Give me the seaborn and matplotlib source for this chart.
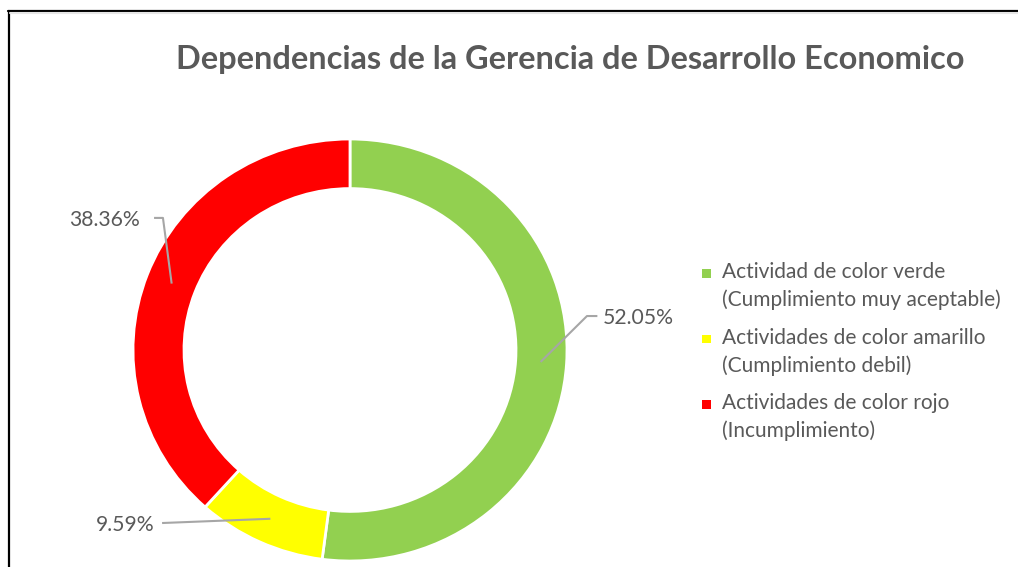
import matplotlib
matplotlib.use("Agg")
import matplotlib.pyplot as plt
import seaborn as sns
import numpy as np
from matplotlib.lines import Line2D
from matplotlib.patches import Patch, Rectangle
from matplotlib.legend_handler import HandlerPatch

sns.set_theme(style="white")
plt.rcParams['font.family'] = ['Lato', 'DejaVu Sans']

title = "Dependencias de la Gerencia de Desarrollo Economico"
categories = ["Actividad de color verde\n(Cumplimiento muy aceptable)",
              "Actividades de color amarillo\n(Cumplimiento debil)",
              "Actividades de color rojo\n(Incumplimiento)"]
values = [52.05, 9.59, 38.36]
labels = ["52.05%", "9.59%", "38.36%"]
colors = ["#92d050", "#ffff00", "#ff0000"]

W, H = 1018, 567
fig = plt.figure(figsize=(W / 100, H / 100), dpi=100)
fig.patch.set_facecolor("white")

cx, cy, rx, ry = 350, 350, 217, 211
ax = fig.add_axes([(cx - rx) / W, (H - cy - ry) / H, 2 * rx / W, 2 * ry / H])
wedges, _ = ax.pie(values, colors=colors, startangle=90, counterclock=False,
                   radius=1.0, wedgeprops=dict(width=0.235, edgecolor="white", linewidth=2))
ax.set_xlim(-1, 1)
ax.set_ylim(-1, 1)
ax.set_aspect("auto")
ax.axis("off")

label_layout = {
    0: dict(text=(1.166, 0.152), elbow=[(1.092, 0.161), (1.14, 0.161)], ha="left"),
    1: dict(text=(-0.899, -0.829), elbow=[(-0.866, -0.820)], ha="right"),
    2: dict(text=(-0.968, 0.616), elbow=[(-0.862, 0.626), (-0.903, 0.626)], ha="right"),
}
lc = "#a6a6a6"
for i, w in enumerate(wedges):
    mid = np.deg2rad((w.theta1 + w.theta2) / 2)
    px, py = 0.88 * np.cos(mid), 0.88 * np.sin(mid)
    lay = label_layout[i]
    pts = [(px, py)] + lay["elbow"]
    xs, ys = zip(*pts)
    ax.plot(xs, ys, color=lc, lw=1.5, clip_on=False, solid_capstyle="butt")
    ax.text(*lay["text"], labels[i], ha=lay["ha"], va="center", fontsize=15.2,
            color="#595959", clip_on=False)

fig.text(570.5 / W, 1 - 60 / H, title, ha="center", va="center", fontsize=23.4,
         fontweight="bold", color="#595959")


class TopSquare(HandlerPatch):
    def create_artists(self, legend, orig_handle, xdescent, ydescent, width,
                       height, fontsize, trans):
        s = 6.3  # points
        top_gap = -0.4  # points from top of box to top of square
        r = Rectangle((-xdescent, -ydescent + height - top_gap - s), s, s,
                      facecolor=orig_handle.get_facecolor(), edgecolor="none",
                      transform=trans)
        return [r]


handles = [Patch(facecolor=c, edgecolor="none") for c in colors]
leg = fig.legend(handles, categories, loc="upper left",
                 bbox_to_anchor=(683 / W, 1 - 243 / H), frameon=False,
                 fontsize=15, labelcolor="#595959", handlelength=0.4,
                 handleheight=2.25, handletextpad=0.55, labelspacing=0.85,
                 handler_map={Patch: TopSquare()})
for t in leg.get_texts():
    t.set_linespacing(1.45)

# border
fig.add_artist(Line2D([8.5 / W, 8.5 / W], [0, 1 - 10.5 / H], transform=fig.transFigure,
                      color="black", lw=1.6))
fig.add_artist(Line2D([8 / W, 1], [1 - 10.5 / H, 1 - 10.5 / H], transform=fig.transFigure,
                      color="black", lw=1.6))
fig.add_artist(Line2D([9.5 / W, 1], [1 - 12.5 / H, 1 - 12.5 / H], transform=fig.transFigure,
                      color="#e6e6e6", lw=1.5))

fig.savefig("out.png", dpi=100, facecolor="white")
